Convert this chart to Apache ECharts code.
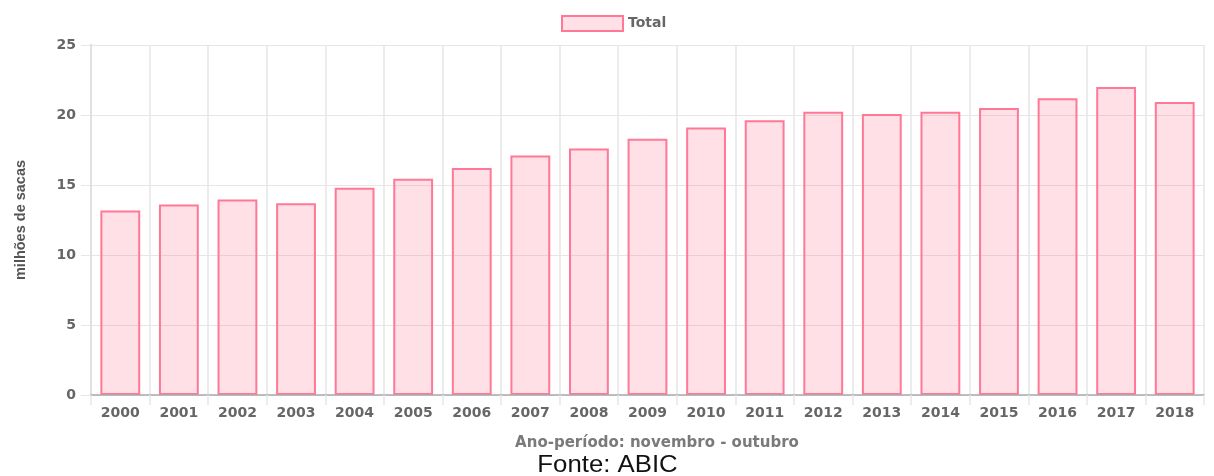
<!DOCTYPE html>
<html>
<head>
<meta charset="utf-8">
<script src="https://cdn.jsdelivr.net/npm/echarts@6/dist/echarts.min.js"></script>
<style>
  html, body { margin: 0; padding: 0; background: #fff; }
  #chart { width: 1214px; height: 476px; }
</style>
</head>
<body>
<div id="chart"></div>
<script>
// anos (novembro - outubro)
var anos = ['2000','2001','2002','2003','2004','2005','2006','2007','2008','2009',
  '2010','2011','2012','2013','2014','2015','2016','2017','2018'];
// consumo total, milhões de sacas
var total = [13.17, 13.6, 13.96, 13.7, 14.81, 15.44, 16.22, 17.1, 17.6, 18.31,
  19.1, 19.62, 20.24, 20.07, 20.24, 20.5, 21.2, 22.0, 20.93];
var yTicks = [0, 5, 10, 15, 20, 25];

var chart = echarts.init(document.getElementById('chart'));
var gridColor = '#e6e6e6';
var labelFont = { color: '#666', fontFamily: 'DejaVu Sans', fontWeight: 'bold', fontSize: 14 };

var option = {
  animation: false,
  legend: {
    left: 556,
    top: 10,
    icon: 'rect',
    itemWidth: 61,
    itemHeight: 15,
    itemGap: 10,
    itemStyle: { borderWidth: 2 },
    textStyle: labelFont,
    data: ['Total']
  },
  grid: { left: 91, right: 10, top: 45, bottom: 81 },
  xAxis: {
    type: 'category',
    data: anos,
    z: 3,
    axisLine: { lineStyle: { color: '#aaa', width: 1.5 } },
    axisTick: { show: true, length: 10, lineStyle: { color: gridColor, width: 1.5 } },
    axisLabel: Object.assign({ margin: 11 }, labelFont),
    splitLine: { show: true, lineStyle: { color: gridColor, width: 1.5 } }
  },
  yAxis: {
    type: 'value',
    min: yTicks[0],
    max: yTicks[yTicks.length - 1],
    interval: 5,
    name: 'milhões de sacas',
    nameLocation: 'middle',
    nameGap: 63,
    nameTextStyle: { color: '#555', fontFamily: 'Liberation Sans', fontWeight: 'bold', fontSize: 14.5 },
    axisLine: { show: true, lineStyle: { color: '#d0d0d0', width: 2 } },
    axisTick: { show: true, length: 10, lineStyle: { color: gridColor } },
    axisLabel: Object.assign({ margin: 15 }, labelFont),
    splitLine: { lineStyle: { color: gridColor } }
  },
  graphic: [
    {
      type: 'text',
      x: 657,
      y: 443,
      style: {
        text: 'Ano-período: novembro - outubro',
        fill: '#7a7a7a',
        font: 'bold 15px "DejaVu Sans"',
        align: 'center',
        verticalAlign: 'middle'
      }
    },
    {
      // fonte adicionada por baixo do gráfico
      type: 'text',
      x: 607.5,
      y: 466,
      scaleX: 1.12,
      style: {
        text: 'Fonte: ABIC',
        fill: '#111',
        font: '23px "Liberation Sans"',
        align: 'center',
        verticalAlign: 'middle'
      }
    }
  ],
  series: [
    {
      name: 'Total',
      type: 'bar',
      data: total,
      barWidth: '68%',
      itemStyle: {
        color: 'rgba(255,99,132,0.2)',
        borderColor: 'rgb(255,120,150)',
        borderWidth: 2
      }
    }
  ]
};
chart.setOption(option);
</script>
</body>
</html>
